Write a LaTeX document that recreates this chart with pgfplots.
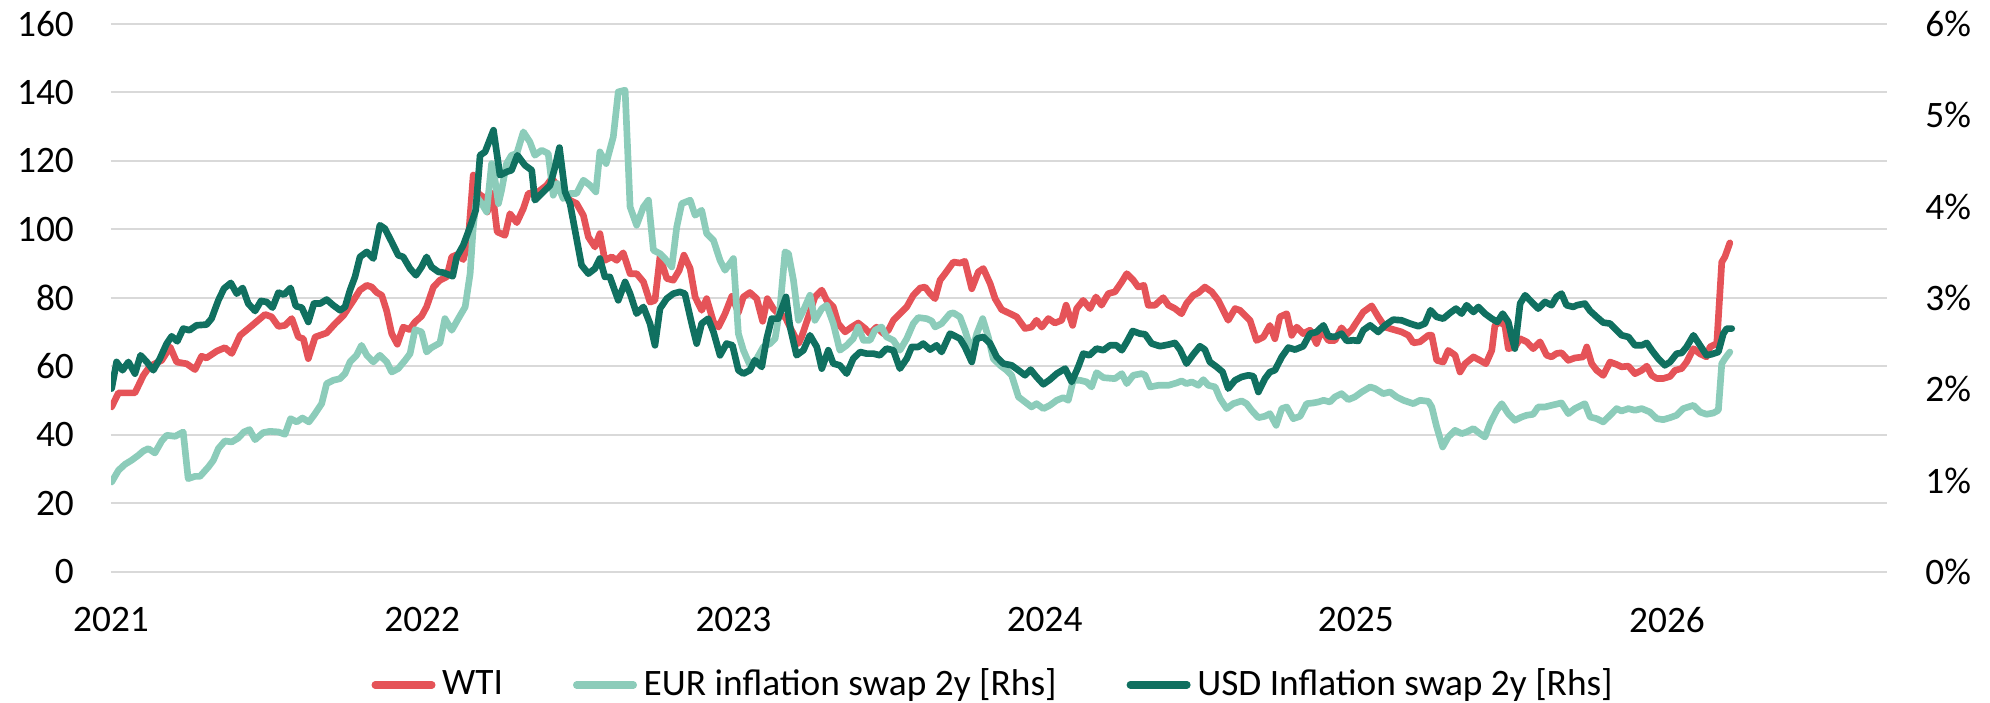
\documentclass[border=0pt]{standalone}
\usepackage{fontspec}
\setmainfont{Carlito}
\usepackage{pgfplots}
\pgfplotsset{compat=1.18}
\definecolor{wti}{RGB}{229,83,88}
\definecolor{eur}{RGB}{140,204,186}
\definecolor{usd}{RGB}{16,112,96}
\definecolor{gridc}{RGB}{217,217,217}
\begin{document}
\fontsize{11.2}{13.4}\selectfont
\begin{tikzpicture}
\useasboundingbox (-33.3pt,-39.3pt) rectangle (563.7pt,171.6pt);
\begin{axis}[
  at={(0,0)}, anchor=south west,
  scale only axis, width=532.8pt, height=164.4pt,
  xmin=2021, xmax=2026.707, ymin=0, ymax=160,
  xtick={2021,2022,2023,2024,2025,2026},
  xticklabels={2021,2022,2023,2024,2025,2026},
  ytick={0,20,40,60,80,100,120,140,160},
  yticklabels={0,20,40,60,80,100,120,140,160},
  axis line style={draw=none}, tick style={draw=none},
  ymajorgrids, grid style={gridc, line width=0.6pt},
  ticklabel style={font=\fontsize{11.2}{13.4}\selectfont},
  yticklabel style={xshift=-7.2pt},
  xticklabel style={yshift=-6.6pt},
]
\addplot[wti, line width=2pt, line join=round, line cap=round] coordinates {
(2021.002,48.2)(2021.024,52.3)(2021.077,52.3)(2021.104,57.4)(2021.125,60.1)(2021.163,61.8)(2021.190,65.7)(2021.211,61.3)(2021.243,60.8)(2021.270,59.1)(2021.291,63.0)(2021.307,62.5)(2021.340,64.5)(2021.366,65.5)(2021.388,63.8)(2021.415,69.1)(2021.447,71.5)(2021.473,73.5)(2021.495,75.2)(2021.516,74.5)(2021.538,71.7)(2021.559,72.0)(2021.581,74.0)(2021.602,68.6)(2021.618,68.1)(2021.634,62.3)(2021.656,68.6)(2021.693,69.8)(2021.720,72.5)(2021.747,74.9)(2021.779,79.3)(2021.800,82.3)(2021.822,83.7)(2021.838,83.2)(2021.854,81.6)(2021.870,80.8)(2021.886,76.2)(2021.902,69.6)(2021.920,66.5)(2021.939,71.5)(2021.959,70.8)(2021.977,73.0)(2021.998,74.7)(2022.014,77.4)(2022.036,83.2)(2022.057,85.2)(2022.079,86.2)(2022.095,92.0)(2022.116,92.8)(2022.132,91.2)(2022.148,96.9)(2022.164,115.9)(2022.180,110.5)(2022.196,109.5)(2022.209,105.1)(2022.226,110.5)(2022.241,99.3)(2022.266,98.3)(2022.282,104.6)(2022.304,102.0)(2022.325,106.1)(2022.341,110.5)(2022.373,111.0)(2022.400,112.9)(2022.416,114.9)(2022.453,111.0)(2022.475,108.5)(2022.496,107.6)(2022.518,104.1)(2022.534,97.8)(2022.555,94.9)(2022.571,98.8)(2022.587,91.0)(2022.609,92.0)(2022.625,91.0)(2022.646,93.2)(2022.668,87.1)(2022.689,87.1)(2022.711,84.7)(2022.732,78.8)(2022.748,79.3)(2022.764,92.0)(2022.786,85.7)(2022.807,85.2)(2022.826,88.1)(2022.841,92.5)(2022.861,88.6)(2022.877,80.3)(2022.898,76.4)(2022.914,79.8)(2022.936,73.0)(2022.952,71.5)(2022.973,75.4)(2022.995,80.5)(2023.016,75.8)(2023.032,80.3)(2023.053,81.6)(2023.075,79.8)(2023.094,73.2)(2023.109,79.8)(2023.128,76.9)(2023.150,74.9)(2023.166,74.5)(2023.187,70.6)(2023.209,66.7)(2023.219,68.6)(2023.241,74.5)(2023.262,80.3)(2023.284,82.3)(2023.300,79.3)(2023.321,77.4)(2023.337,72.5)(2023.359,70.1)(2023.380,71.5)(2023.401,72.7)(2023.423,71.1)(2023.439,69.6)(2023.460,71.5)(2023.482,69.6)(2023.498,70.6)(2023.514,73.5)(2023.535,75.4)(2023.557,77.4)(2023.578,80.8)(2023.600,82.9)(2023.616,83.2)(2023.632,81.3)(2023.648,79.8)(2023.664,85.2)(2023.680,87.1)(2023.707,90.5)(2023.728,90.2)(2023.744,90.7)(2023.766,82.7)(2023.787,87.6)(2023.803,88.6)(2023.825,84.2)(2023.841,79.8)(2023.862,76.6)(2023.883,75.7)(2023.910,74.5)(2023.937,71.1)(2023.958,71.5)(2023.974,73.5)(2023.991,71.5)(2024.012,74.0)(2024.033,72.7)(2024.055,73.5)(2024.069,77.9)(2024.090,72.0)(2024.103,76.9)(2024.124,79.3)(2024.146,76.9)(2024.165,80.3)(2024.183,77.9)(2024.205,81.3)(2024.226,81.8)(2024.248,84.7)(2024.264,87.1)(2024.285,85.2)(2024.301,83.2)(2024.319,83.7)(2024.333,77.9)(2024.355,77.9)(2024.381,80.1)(2024.398,77.9)(2024.419,76.9)(2024.440,75.4)(2024.456,78.4)(2024.478,80.8)(2024.494,81.5)(2024.515,83.2)(2024.537,81.8)(2024.558,79.3)(2024.574,76.4)(2024.590,73.5)(2024.612,76.9)(2024.628,76.4)(2024.644,74.9)(2024.660,73.5)(2024.681,67.6)(2024.703,68.6)(2024.724,72.0)(2024.740,68.1)(2024.756,74.5)(2024.778,75.4)(2024.794,69.1)(2024.810,71.5)(2024.831,69.6)(2024.853,70.6)(2024.874,66.7)(2024.890,70.6)(2024.912,67.6)(2024.933,67.6)(2024.954,71.3)(2024.971,69.4)(2024.987,70.8)(2025.003,73.0)(2025.024,75.9)(2025.051,77.7)(2025.072,74.5)(2025.094,71.5)(2025.120,70.8)(2025.147,70.1)(2025.169,69.1)(2025.185,66.9)(2025.206,67.2)(2025.233,69.1)(2025.244,69.1)(2025.260,61.8)(2025.281,61.3)(2025.297,64.7)(2025.319,63.3)(2025.335,58.4)(2025.351,60.8)(2025.378,62.8)(2025.399,61.8)(2025.418,60.8)(2025.437,64.7)(2025.447,72.0)(2025.463,73.0)(2025.479,72.0)(2025.490,65.2)(2025.511,65.7)(2025.528,68.1)(2025.549,67.2)(2025.570,65.2)(2025.592,67.2)(2025.613,63.3)(2025.629,62.8)(2025.645,63.8)(2025.661,64.0)(2025.683,61.8)(2025.704,62.5)(2025.731,62.8)(2025.742,65.7)(2025.758,60.8)(2025.774,58.9)(2025.795,57.4)(2025.817,61.3)(2025.838,60.6)(2025.854,59.9)(2025.876,60.1)(2025.897,57.9)(2025.919,58.9)(2025.935,60.1)(2025.951,57.4)(2025.967,56.5)(2025.988,56.5)(2026.010,57.1)(2026.026,58.9)(2026.047,59.4)(2026.063,61.3)(2026.085,65.2)(2026.106,63.7)(2026.127,62.8)(2026.138,65.7)(2026.160,66.7)(2026.176,90.5)(2026.186,92.0)(2026.202,96.1)
};
\end{axis}
\begin{axis}[
  at={(0,0)}, anchor=south west,
  scale only axis, width=532.8pt, height=164.4pt,
  xmin=2021, xmax=2026.707, ymin=0, ymax=6,
  hide x axis, axis y line*=right,
  ytick={0,1,2,3,4,5,6},
  yticklabels={0\%,1\%,2\%,3\%,4\%,5\%,6\%},
  axis line style={draw=none}, tick style={draw=none},
  ticklabel style={font=\fontsize{11.2}{13.4}\selectfont},
  yticklabel style={xshift=7.6pt},
  legend style={at={(0.498,-0.206)}, anchor=center, draw=none, fill=none,
    font=\fontsize{11.2}{13.4}\selectfont, inner sep=0pt,
    /tikz/every even column/.append style={column sep=19pt}},
  legend columns=3,
  legend image code/.code={\draw[#1, line width=2.2pt, line cap=round] (0pt,0pt) -- (17pt,0pt);},
]
\addlegendimage{wti, line width=2.2pt}
\addlegendentry{WTI}
\addplot[eur, line width=2pt, line join=round, line cap=round] coordinates {
(2021.002,0.985)(2021.024,1.113)(2021.045,1.179)(2021.066,1.223)(2021.088,1.278)(2021.104,1.325)(2021.120,1.351)(2021.141,1.303)(2021.163,1.435)(2021.179,1.497)(2021.206,1.486)(2021.232,1.533)(2021.248,1.022)(2021.270,1.047)(2021.286,1.047)(2021.313,1.150)(2021.329,1.223)(2021.345,1.351)(2021.366,1.435)(2021.388,1.424)(2021.409,1.467)(2021.427,1.533)(2021.445,1.559)(2021.463,1.449)(2021.489,1.526)(2021.511,1.540)(2021.538,1.533)(2021.559,1.508)(2021.577,1.679)(2021.597,1.643)(2021.615,1.686)(2021.636,1.643)(2021.652,1.716)(2021.677,1.843)(2021.693,2.063)(2021.714,2.099)(2021.736,2.117)(2021.752,2.172)(2021.768,2.300)(2021.789,2.373)(2021.805,2.482)(2021.822,2.373)(2021.843,2.300)(2021.864,2.373)(2021.886,2.300)(2021.902,2.190)(2021.923,2.227)(2021.945,2.318)(2021.961,2.391)(2021.977,2.654)(2021.998,2.628)(2022.014,2.409)(2022.030,2.457)(2022.057,2.508)(2022.073,2.774)(2022.095,2.647)(2022.116,2.774)(2022.138,2.902)(2022.154,3.267)(2022.164,3.779)(2022.175,4.107)(2022.191,4.034)(2022.207,3.943)(2022.223,4.472)(2022.234,4.290)(2022.245,4.034)(2022.255,4.180)(2022.271,4.472)(2022.287,4.563)(2022.304,4.582)(2022.325,4.819)(2022.346,4.709)(2022.362,4.563)(2022.384,4.618)(2022.405,4.582)(2022.421,4.125)(2022.434,4.253)(2022.453,4.089)(2022.475,4.144)(2022.496,4.144)(2022.518,4.290)(2022.539,4.235)(2022.558,4.162)(2022.571,4.600)(2022.591,4.472)(2022.614,4.764)(2022.630,5.257)(2022.652,5.275)(2022.668,3.998)(2022.689,3.797)(2022.711,3.998)(2022.727,4.071)(2022.743,3.523)(2022.764,3.486)(2022.780,3.432)(2022.802,3.340)(2022.818,3.779)(2022.834,4.034)(2022.861,4.071)(2022.877,3.906)(2022.898,3.961)(2022.914,3.706)(2022.936,3.632)(2022.957,3.413)(2022.973,3.304)(2023.000,3.432)(2023.016,2.610)(2023.032,2.428)(2023.053,2.263)(2023.075,2.336)(2023.096,2.464)(2023.118,2.501)(2023.134,2.555)(2023.150,2.902)(2023.166,3.505)(2023.177,3.486)(2023.193,3.194)(2023.209,2.756)(2023.225,2.866)(2023.246,3.030)(2023.262,2.756)(2023.284,2.884)(2023.300,2.921)(2023.321,2.720)(2023.342,2.428)(2023.364,2.482)(2023.385,2.555)(2023.401,2.683)(2023.418,2.537)(2023.439,2.537)(2023.455,2.647)(2023.476,2.683)(2023.492,2.574)(2023.514,2.537)(2023.535,2.428)(2023.557,2.555)(2023.578,2.720)(2023.594,2.786)(2023.621,2.774)(2023.637,2.749)(2023.648,2.683)(2023.669,2.720)(2023.696,2.829)(2023.707,2.837)(2023.728,2.793)(2023.744,2.647)(2023.766,2.409)(2023.782,2.610)(2023.801,2.774)(2023.819,2.574)(2023.835,2.336)(2023.857,2.263)(2023.878,2.209)(2023.894,2.154)(2023.916,1.917)(2023.937,1.862)(2023.958,1.807)(2023.974,1.843)(2023.996,1.789)(2024.017,1.825)(2024.039,1.880)(2024.060,1.909)(2024.076,1.880)(2024.092,2.099)(2024.114,2.099)(2024.135,2.081)(2024.151,2.026)(2024.167,2.183)(2024.189,2.128)(2024.226,2.117)(2024.248,2.172)(2024.264,2.063)(2024.285,2.154)(2024.312,2.172)(2024.323,2.154)(2024.339,2.026)(2024.365,2.044)(2024.398,2.044)(2024.424,2.070)(2024.440,2.092)(2024.456,2.063)(2024.473,2.081)(2024.494,2.044)(2024.510,2.106)(2024.526,2.044)(2024.548,2.026)(2024.564,1.898)(2024.585,1.789)(2024.606,1.843)(2024.633,1.873)(2024.649,1.843)(2024.665,1.771)(2024.687,1.690)(2024.708,1.705)(2024.724,1.734)(2024.744,1.606)(2024.762,1.789)(2024.778,1.807)(2024.799,1.679)(2024.821,1.705)(2024.842,1.843)(2024.863,1.851)(2024.880,1.862)(2024.896,1.880)(2024.917,1.862)(2024.933,1.917)(2024.954,1.953)(2024.976,1.887)(2024.997,1.917)(2025.019,1.971)(2025.046,2.026)(2025.062,2.008)(2025.088,1.953)(2025.110,1.971)(2025.131,1.917)(2025.153,1.880)(2025.185,1.843)(2025.206,1.880)(2025.233,1.869)(2025.244,1.807)(2025.260,1.588)(2025.279,1.369)(2025.297,1.478)(2025.319,1.551)(2025.340,1.515)(2025.356,1.533)(2025.378,1.570)(2025.399,1.515)(2025.415,1.478)(2025.431,1.624)(2025.453,1.771)(2025.469,1.843)(2025.490,1.734)(2025.511,1.661)(2025.533,1.697)(2025.549,1.716)(2025.570,1.727)(2025.586,1.807)(2025.608,1.807)(2025.629,1.825)(2025.661,1.851)(2025.683,1.734)(2025.704,1.789)(2025.736,1.843)(2025.753,1.697)(2025.774,1.679)(2025.795,1.643)(2025.817,1.716)(2025.838,1.789)(2025.854,1.763)(2025.876,1.789)(2025.897,1.771)(2025.919,1.789)(2025.945,1.752)(2025.967,1.679)(2025.988,1.668)(2026.010,1.690)(2026.031,1.716)(2026.052,1.789)(2026.085,1.825)(2026.106,1.752)(2026.127,1.727)(2026.149,1.741)(2026.165,1.771)(2026.176,2.282)(2026.186,2.336)(2026.202,2.409)
};
\addlegendentry{EUR inflation swap 2y [Rhs]}
\addplot[usd, line width=2pt, line join=round, line cap=round] coordinates {
(2021.002,2.008)(2021.018,2.300)(2021.037,2.209)(2021.056,2.300)(2021.077,2.172)(2021.095,2.373)(2021.115,2.300)(2021.136,2.209)(2021.157,2.336)(2021.179,2.501)(2021.195,2.581)(2021.213,2.526)(2021.232,2.665)(2021.252,2.647)(2021.275,2.701)(2021.307,2.709)(2021.323,2.774)(2021.345,2.975)(2021.363,3.103)(2021.385,3.165)(2021.404,3.048)(2021.423,3.110)(2021.441,2.939)(2021.463,2.858)(2021.482,2.968)(2021.500,2.957)(2021.519,2.895)(2021.538,3.059)(2021.556,3.037)(2021.577,3.110)(2021.594,2.910)(2021.613,2.895)(2021.634,2.738)(2021.652,2.939)(2021.672,2.939)(2021.693,2.983)(2021.714,2.921)(2021.736,2.866)(2021.752,2.902)(2021.768,3.085)(2021.784,3.231)(2021.800,3.450)(2021.822,3.505)(2021.843,3.432)(2021.864,3.797)(2021.880,3.760)(2021.902,3.614)(2021.923,3.468)(2021.939,3.450)(2021.961,3.322)(2021.980,3.249)(2021.998,3.340)(2022.014,3.450)(2022.030,3.340)(2022.052,3.286)(2022.068,3.278)(2022.098,3.238)(2022.111,3.450)(2022.132,3.578)(2022.154,3.779)(2022.172,3.961)(2022.186,4.563)(2022.202,4.600)(2022.229,4.837)(2022.250,4.344)(2022.271,4.381)(2022.287,4.399)(2022.306,4.563)(2022.330,4.454)(2022.352,4.399)(2022.362,4.071)(2022.384,4.144)(2022.411,4.235)(2022.427,4.436)(2022.441,4.647)(2022.459,4.162)(2022.475,4.034)(2022.491,3.742)(2022.512,3.359)(2022.534,3.267)(2022.555,3.322)(2022.571,3.432)(2022.587,3.231)(2022.603,3.231)(2022.630,2.975)(2022.652,3.176)(2022.668,3.048)(2022.689,2.829)(2022.711,2.902)(2022.732,2.720)(2022.748,2.482)(2022.764,2.884)(2022.786,2.994)(2022.807,3.048)(2022.828,3.067)(2022.844,3.048)(2022.866,2.720)(2022.882,2.501)(2022.898,2.720)(2022.919,2.774)(2022.936,2.628)(2022.957,2.373)(2022.978,2.501)(2022.997,2.482)(2023.016,2.209)(2023.032,2.172)(2023.053,2.209)(2023.069,2.318)(2023.091,2.245)(2023.107,2.555)(2023.123,2.774)(2023.144,2.774)(2023.169,3.012)(2023.182,2.683)(2023.203,2.373)(2023.225,2.428)(2023.246,2.592)(2023.268,2.464)(2023.284,2.227)(2023.305,2.428)(2023.321,2.282)(2023.342,2.263)(2023.364,2.172)(2023.385,2.336)(2023.407,2.409)(2023.428,2.391)(2023.450,2.391)(2023.471,2.373)(2023.492,2.446)(2023.514,2.428)(2023.535,2.227)(2023.557,2.336)(2023.573,2.464)(2023.594,2.464)(2023.610,2.501)(2023.632,2.435)(2023.653,2.482)(2023.669,2.409)(2023.696,2.610)(2023.707,2.592)(2023.728,2.555)(2023.744,2.464)(2023.766,2.300)(2023.782,2.555)(2023.803,2.574)(2023.825,2.501)(2023.846,2.355)(2023.867,2.282)(2023.894,2.263)(2023.916,2.209)(2023.937,2.154)(2023.955,2.216)(2023.974,2.136)(2023.996,2.055)(2024.017,2.106)(2024.039,2.172)(2024.066,2.227)(2024.087,2.081)(2024.108,2.245)(2024.124,2.391)(2024.144,2.373)(2024.167,2.446)(2024.189,2.428)(2024.210,2.482)(2024.231,2.482)(2024.248,2.428)(2024.264,2.519)(2024.283,2.639)(2024.306,2.610)(2024.323,2.603)(2024.344,2.501)(2024.371,2.472)(2024.398,2.490)(2024.419,2.508)(2024.435,2.435)(2024.456,2.282)(2024.478,2.384)(2024.499,2.472)(2024.515,2.435)(2024.531,2.300)(2024.553,2.245)(2024.572,2.190)(2024.590,2.008)(2024.612,2.099)(2024.633,2.136)(2024.655,2.154)(2024.671,2.143)(2024.687,1.971)(2024.708,2.117)(2024.724,2.190)(2024.740,2.209)(2024.762,2.355)(2024.783,2.457)(2024.805,2.435)(2024.831,2.472)(2024.853,2.610)(2024.874,2.628)(2024.896,2.701)(2024.912,2.581)(2024.933,2.574)(2024.954,2.610)(2024.971,2.530)(2024.992,2.537)(2025.008,2.530)(2025.024,2.647)(2025.046,2.701)(2025.072,2.628)(2025.094,2.701)(2025.120,2.763)(2025.147,2.756)(2025.174,2.720)(2025.201,2.691)(2025.222,2.720)(2025.240,2.866)(2025.260,2.793)(2025.281,2.774)(2025.303,2.837)(2025.322,2.884)(2025.340,2.829)(2025.356,2.921)(2025.378,2.847)(2025.394,2.902)(2025.415,2.829)(2025.437,2.774)(2025.455,2.738)(2025.472,2.829)(2025.490,2.738)(2025.501,2.574)(2025.511,2.446)(2025.528,2.939)(2025.544,3.030)(2025.565,2.957)(2025.586,2.884)(2025.608,2.957)(2025.629,2.921)(2025.645,3.012)(2025.661,3.048)(2025.677,2.921)(2025.699,2.902)(2025.710,2.921)(2025.736,2.939)(2025.753,2.858)(2025.774,2.793)(2025.795,2.731)(2025.817,2.720)(2025.838,2.647)(2025.854,2.592)(2025.876,2.574)(2025.897,2.482)(2025.919,2.482)(2025.935,2.508)(2025.951,2.428)(2025.972,2.336)(2025.993,2.263)(2026.010,2.300)(2026.031,2.391)(2026.047,2.398)(2026.063,2.464)(2026.085,2.592)(2026.106,2.482)(2026.127,2.373)(2026.143,2.384)(2026.165,2.409)(2026.181,2.610)(2026.192,2.665)(2026.208,2.665)
};
\addlegendentry{USD Inflation swap 2y [Rhs]}
\end{axis}
\end{tikzpicture}
\end{document}
